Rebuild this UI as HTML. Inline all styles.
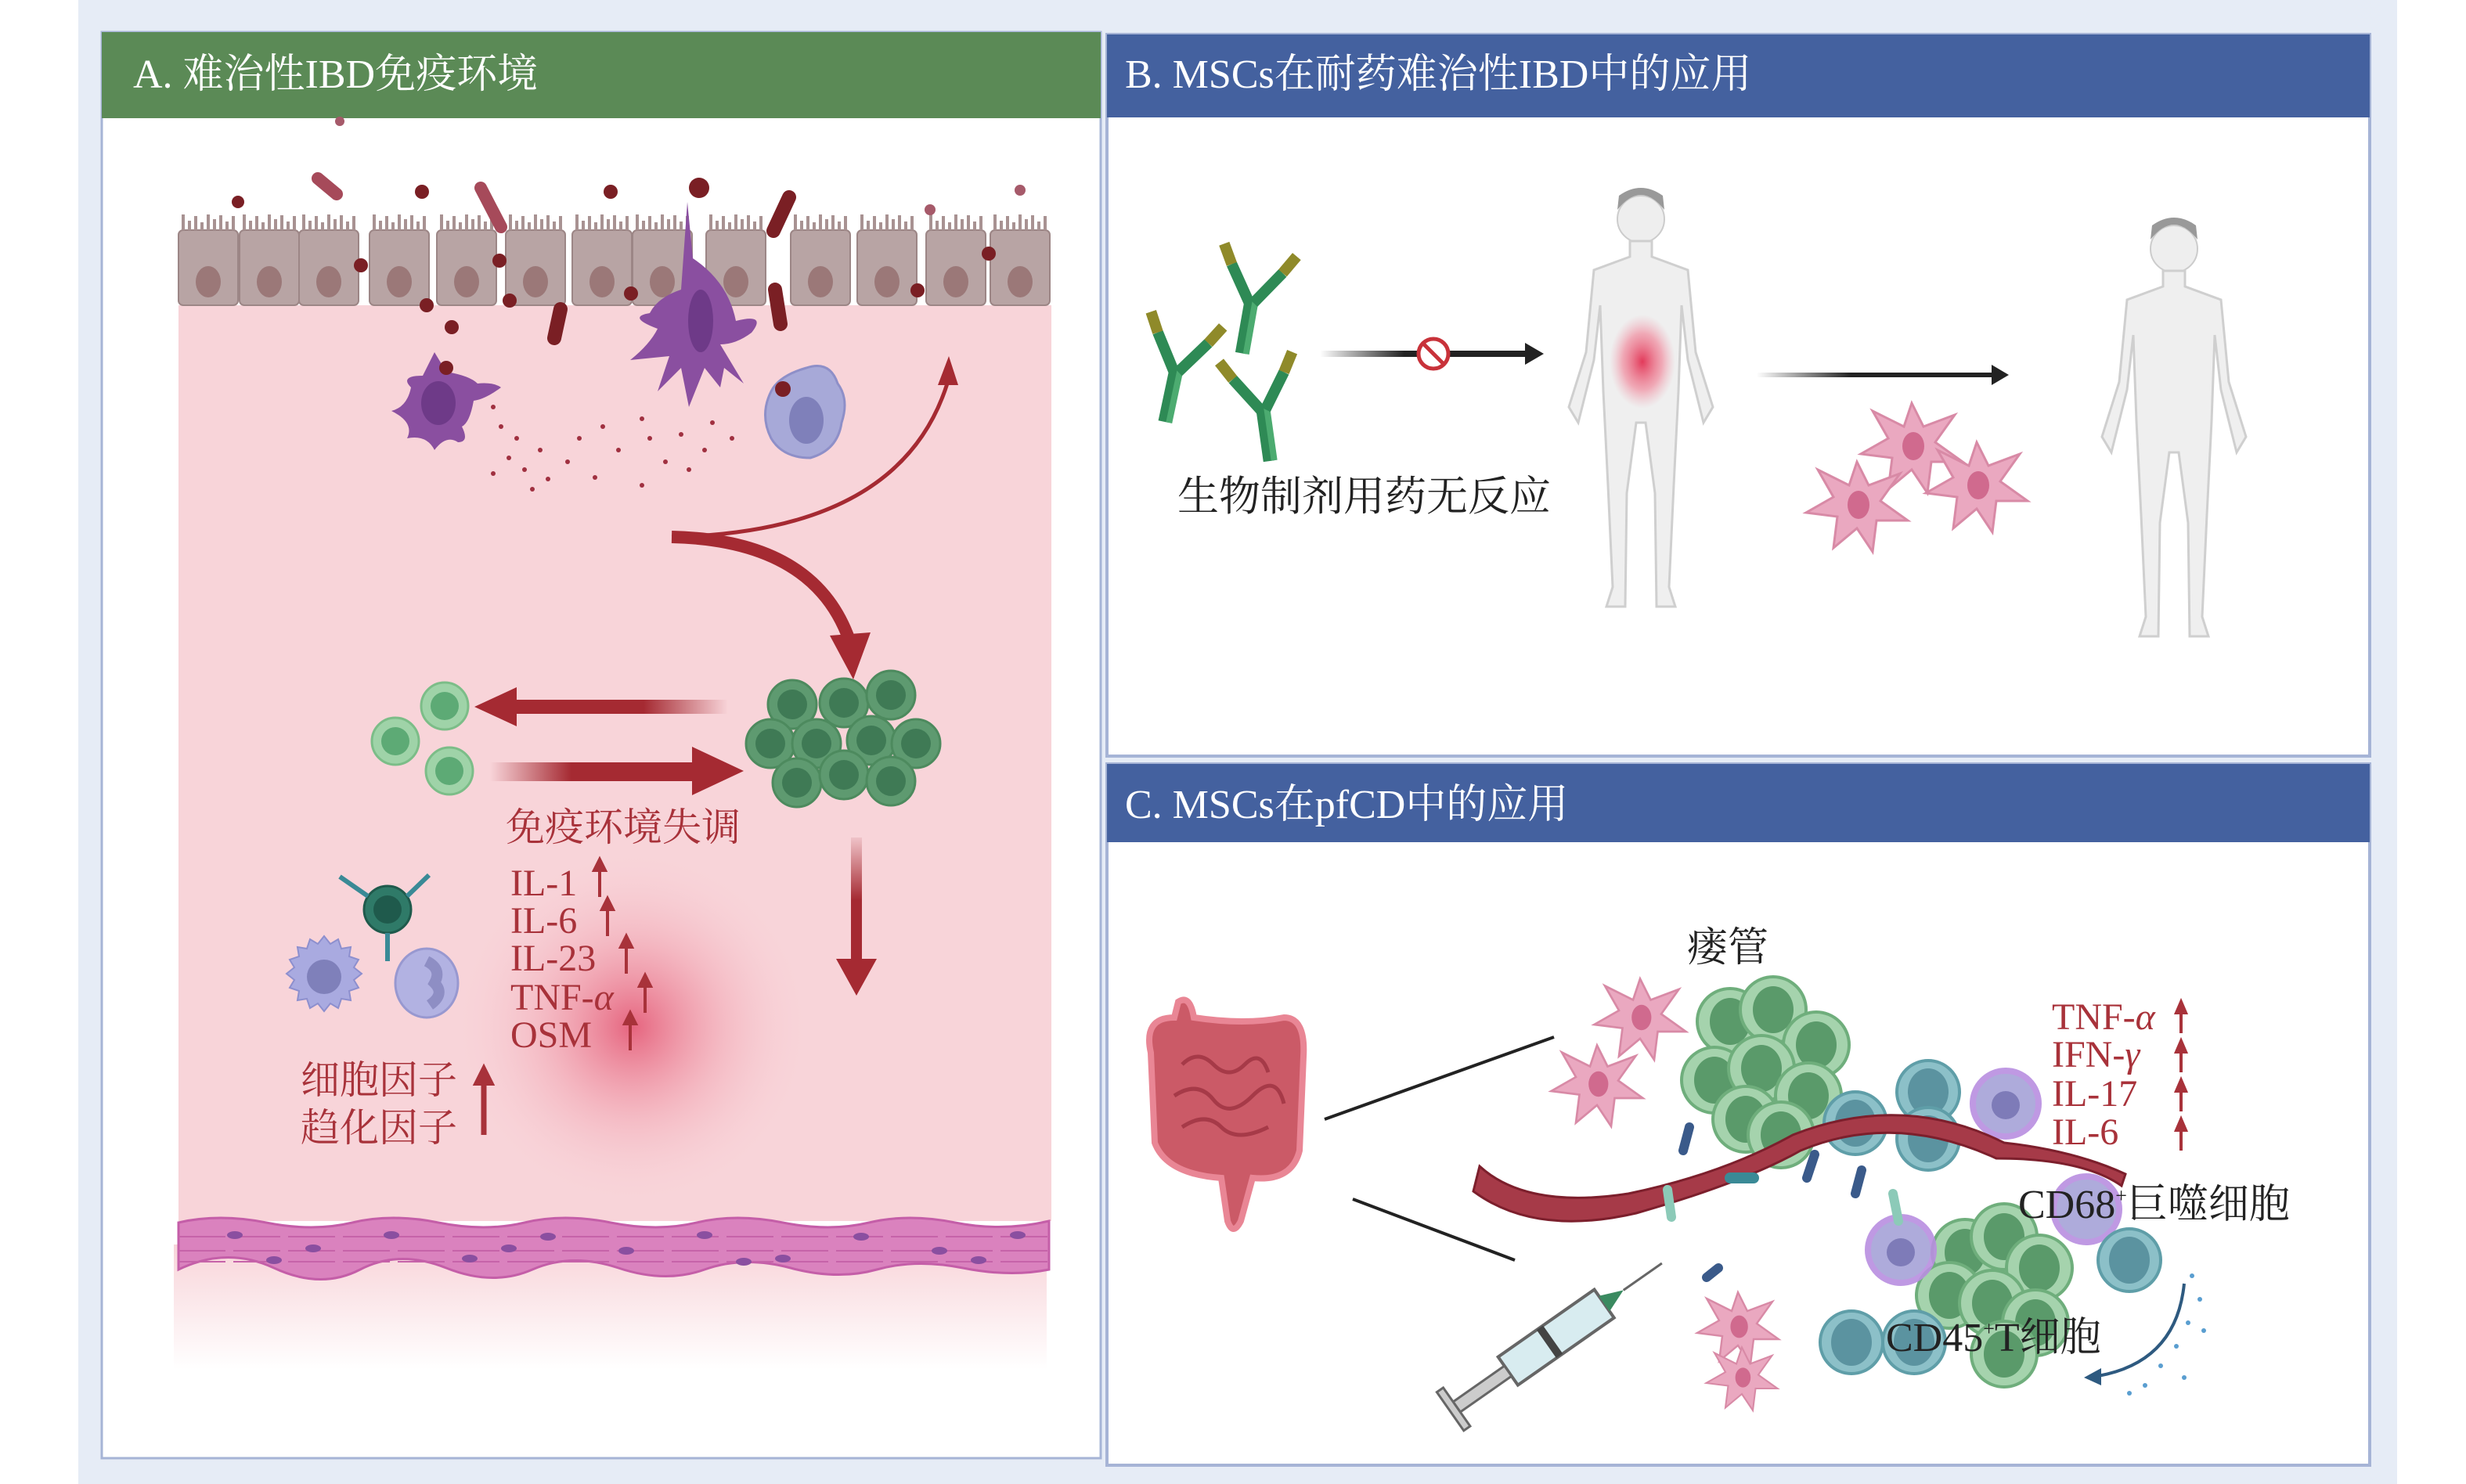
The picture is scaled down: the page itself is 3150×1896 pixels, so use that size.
<!DOCTYPE html>
<html><head><meta charset="utf-8"><style>
html,body{margin:0;padding:0;background:#fff}
svg{display:block}
.t{font-family:"Liberation Serif","Noto Serif CJK SC",serif}
</style></head><body>
<svg width="3150" height="1896" viewBox="0 0 3150 1896" xmlns="http://www.w3.org/2000/svg">
<defs>
<radialGradient id="glow" cx="0.5" cy="0.5" r="0.5"><stop offset="0" stop-color="#e2506e" stop-opacity="0.85"/><stop offset="0.5" stop-color="#ee8a9c" stop-opacity="0.35"/><stop offset="1" stop-color="#f8d4d9" stop-opacity="0"/></radialGradient>
<radialGradient id="belly" cx="0.5" cy="0.5" r="0.5"><stop offset="0" stop-color="#e23a5a"/><stop offset="0.6" stop-color="#f07a90" stop-opacity="0.6"/><stop offset="1" stop-color="#f0a0b0" stop-opacity="0"/></radialGradient>
<linearGradient id="fade" x1="0" y1="0" x2="0" y2="1"><stop offset="0" stop-color="#f8d4d9"/><stop offset="1" stop-color="#fff"/></linearGradient>
<linearGradient id="arrL" x1="0" x2="1"><stop offset="0" stop-color="#a52a32"/><stop offset="0.6" stop-color="#a52a32"/><stop offset="1" stop-color="#a52a32" stop-opacity="0"/></linearGradient>
<linearGradient id="arrR" x1="0" x2="1"><stop offset="0" stop-color="#a52a32" stop-opacity="0"/><stop offset="0.4" stop-color="#a52a32"/><stop offset="1" stop-color="#a52a32"/></linearGradient>
<linearGradient id="arrD" x1="0" y1="0" x2="0" y2="1"><stop offset="0" stop-color="#a52a32" stop-opacity="0.1"/><stop offset="0.5" stop-color="#a52a32"/><stop offset="1" stop-color="#a52a32"/></linearGradient>
<linearGradient id="blk" x1="0" x2="1"><stop offset="0" stop-color="#222" stop-opacity="0"/><stop offset="0.4" stop-color="#222"/><stop offset="1" stop-color="#222"/></linearGradient>
<g id="epi"><rect x="0" y="22" width="76" height="96" rx="6" fill="#b8a4a4" stroke="#9c8686" stroke-width="2"/>
<path d="M6 22V2M14 22V10M22 22V4M30 22V12M38 22V2M46 22V8M54 22V3M62 22V11M70 22V4" stroke="#a89292" stroke-width="4"/>
<ellipse cx="38" cy="88" rx="16" ry="20" fill="#9b7878"/></g>
<g id="gc"><circle r="31" fill="#5e9a70" stroke="#4d8a5e" stroke-width="3"/><circle r="19" fill="#3f7a55"/></g>
<g id="lgc"><circle r="30" fill="#9fd3a8" stroke="#7cbd88" stroke-width="3"/><circle r="18" fill="#5daa75"/></g>
<g id="msc"><path d="M0-55L15-25 55-40 30-5 65 20 25 20 20 60 0 30-30 55-25 15-65 10-30-10-50-45-10-25Z" fill="#eaa8c0" stroke="#d88aa6" stroke-width="3"/><ellipse cx="2" cy="0" rx="14" ry="18" fill="#d06a8e"/></g>
<g id="ab"><rect x="-6" y="0" width="14" height="70" fill="#2e8a55"/><rect x="4" y="0" width="8" height="70" fill="#4cab70"/><path d="M0 4L-30-40M6 4L36-40" stroke="#2e8a55" stroke-width="14"/><path d="M-30-40L-44-64M36-40L50-64" stroke="#8f8a2a" stroke-width="14"/></g>
<g id="tc"><circle r="40" fill="#8cc0c8" stroke="#5f9ea8" stroke-width="4"/><ellipse rx="26" ry="30" fill="#5b93a0"/></g>
<g id="gc2"><circle r="42" fill="#a5d3ad" stroke="#6fae7c" stroke-width="4"/><ellipse rx="26" ry="30" fill="#5a9a6a"/></g>
<g id="human"><circle cx="0" cy="30" r="30" fill="#eee" stroke="#ccc" stroke-width="2"/><path d="M-30 18Q0-20 30 18L28 0Q0-20-28 0Z" fill="#999"/>
<path d="M-14 58L-14 78-60 95-70 200-92 270-80 290-60 210-52 140-48 250-42 370-36 500-44 525-20 525-18 380-6 290 6 290 18 380 20 525 44 525 36 500 42 370 48 250 52 140 60 210 80 290 92 270 70 200 60 95 14 78 14 58Z" fill="#efefef" stroke="#cfcfcf" stroke-width="3"/></g>
</defs>
<rect width="3150" height="1896" fill="#fff"/>
<rect x="100" y="0" width="2962" height="1896" fill="#e6ecf6"/>

<!-- Panel A -->
<rect x="130" y="41" width="1276" height="1822" fill="#fff" stroke="#a6b4d6" stroke-width="3"/>
<rect x="130" y="41" width="1276" height="110" fill="#5b8a56"/>
<text x="170" y="112" class="t" font-size="52" fill="#fff">A. 难治性IBD免疫环境</text>
<rect x="228" y="390" width="1115" height="1170" fill="#f8d4d9"/>
<rect x="222" y="1590" width="1115" height="160" fill="url(#fade)"/>
<circle cx="808" cy="1312" r="230" fill="url(#glow)"/>
<path d="M228 1562Q280 1550 340 1562T450 1562T560 1562T670 1562T780 1562T890 1562T1000 1562T1110 1562T1220 1562T1340 1560V1622Q1290 1632 1230 1620T1120 1622T1010 1620T900 1622T790 1620T680 1622T570 1620T460 1622T350 1620T228 1622Z" fill="#da82be" stroke="#c45ea8" stroke-width="3"/>
<path d="M228 1580H1340M228 1598H1340M228 1612H1340" stroke="#c663a9" stroke-width="2" stroke-dasharray="60 10"/>
<g fill="#8a4fa0"><ellipse cx="300" cy="1578" rx="10" ry="5"/><ellipse cx="400" cy="1595" rx="10" ry="5"/><ellipse cx="500" cy="1578" rx="10" ry="5"/><ellipse cx="600" cy="1608" rx="10" ry="5"/><ellipse cx="700" cy="1580" rx="10" ry="5"/><ellipse cx="800" cy="1598" rx="10" ry="5"/><ellipse cx="900" cy="1578" rx="10" ry="5"/><ellipse cx="1000" cy="1608" rx="10" ry="5"/><ellipse cx="1100" cy="1580" rx="10" ry="5"/><ellipse cx="1200" cy="1598" rx="10" ry="5"/><ellipse cx="1300" cy="1578" rx="10" ry="5"/><ellipse cx="350" cy="1610" rx="10" ry="5"/><ellipse cx="650" cy="1595" rx="10" ry="5"/><ellipse cx="950" cy="1612" rx="10" ry="5"/><ellipse cx="1250" cy="1610" rx="10" ry="5"/></g>
<g transform="translate(0,272)">
<use href="#epi" x="228"/><use href="#epi" x="306"/><use href="#epi" x="382"/><use href="#epi" x="472"/><use href="#epi" x="558"/><use href="#epi" x="646"/><use href="#epi" x="731"/><use href="#epi" x="808"/><use href="#epi" x="902"/><use href="#epi" x="1010"/><use href="#epi" x="1095"/><use href="#epi" x="1183"/><use href="#epi" x="1265"/>
</g>
<g fill="#7a1f24"><circle cx="304" cy="258" r="8"/><circle cx="539" cy="245" r="9"/><circle cx="780" cy="245" r="9"/><circle cx="893" cy="240" r="13"/><circle cx="461" cy="339" r="9"/><circle cx="638" cy="333" r="9"/><circle cx="651" cy="384" r="9"/><circle cx="545" cy="390" r="9"/><circle cx="577" cy="418" r="9"/><circle cx="806" cy="375" r="9"/><circle cx="1263" cy="324" r="9"/><circle cx="1172" cy="371" r="9"/></g>
<g fill="#a65a6a"><circle cx="1303" cy="243" r="7"/><circle cx="1188" cy="268" r="7"/><circle cx="434" cy="155" r="6"/></g>
<g stroke-linecap="round"><path d="M406 228L430 248" stroke="#a64a5a" stroke-width="16"/><path d="M614 240L640 290" stroke="#a64a5a" stroke-width="16"/><path d="M1008 252L988 295" stroke="#7a1f24" stroke-width="18"/><path d="M716 395L708 432" stroke="#7a1f24" stroke-width="18"/><path d="M990 370L997 414" stroke="#7a1f24" stroke-width="18"/></g>
<path d="M878 258L885 330Q930 360 940 410Q980 400 960 425Q940 440 920 440L950 490 925 470 920 495 900 470 880 520 870 470 840 500 855 455 805 460Q830 440 840 420 800 405 830 400Q840 380 870 370Z" fill="#8a4fa0"/>
<ellipse cx="895" cy="410" rx="16" ry="40" fill="#6e3a88"/>
<path d="M555 450L570 475Q600 480 610 490 630 488 640 495 620 510 605 512 600 540 590 545 600 565 585 565 570 555 555 575 545 555 520 560 530 540 500 525 520 520 525 495 510 480 540 480Z" fill="#8a4fa0"/>
<ellipse cx="560" cy="515" rx="22" ry="28" fill="#6e3a88"/><circle cx="570" cy="470" r="9" fill="#7a1f24"/>
<path d="M1030 470Q1060 460 1070 490 1085 510 1075 540 1070 575 1035 585 1000 585 985 560 970 530 985 500 995 480 1030 470Z" fill="#a7a9d8" stroke="#8e8fc8" stroke-width="3"/>
<ellipse cx="1030" cy="537" rx="22" ry="30" fill="#7f80ba"/><circle cx="1000" cy="497" r="10" fill="#7a1f24"/>
<g fill="#a03040"><circle cx="630" cy="520" r="3"/><circle cx="640" cy="545" r="3"/><circle cx="660" cy="560" r="3"/><circle cx="650" cy="585" r="3"/><circle cx="670" cy="600" r="3"/><circle cx="690" cy="575" r="3"/><circle cx="700" cy="612" r="3"/><circle cx="725" cy="590" r="3"/><circle cx="740" cy="560" r="3"/><circle cx="770" cy="545" r="3"/><circle cx="790" cy="575" r="3"/><circle cx="820" cy="535" r="3"/><circle cx="830" cy="560" r="3"/><circle cx="850" cy="590" r="3"/><circle cx="870" cy="555" r="3"/><circle cx="880" cy="600" r="3"/><circle cx="900" cy="575" r="3"/><circle cx="910" cy="540" r="3"/><circle cx="935" cy="560" r="3"/><circle cx="760" cy="610" r="3"/><circle cx="630" cy="605" r="3"/><circle cx="680" cy="625" r="3"/><circle cx="820" cy="620" r="3"/></g>
<path d="M858 686Q1150 680 1210 490" fill="none" stroke="#a52a32" stroke-width="5"/>
<path d="M1212 455L1198 492 1224 492Z" fill="#a52a32"/>
<path d="M858 686Q1040 690 1085 818" fill="none" stroke="#a52a32" stroke-width="16"/>
<path d="M1090 868L1060 812 1112 808Z" fill="#a52a32"/>
<use href="#gc" x="1012" y="900"/><use href="#gc" x="1078" y="898"/><use href="#gc" x="1138" y="888"/><use href="#gc" x="984" y="950"/><use href="#gc" x="1043" y="950"/><use href="#gc" x="1113" y="946"/><use href="#gc" x="1170" y="950"/><use href="#gc" x="1018" y="1000"/><use href="#gc" x="1078" y="990"/><use href="#gc" x="1138" y="998"/>
<use href="#lgc" x="568" y="902"/><use href="#lgc" x="505" y="947"/><use href="#lgc" x="574" y="985"/>
<rect x="660" y="894" width="270" height="18" fill="url(#arrL)"/><path d="M606 903L660 878 660 928Z" fill="#a52a32"/>
<rect x="626" y="974" width="260" height="24" fill="url(#arrR)"/><path d="M950 985L884 954 884 1016Z" fill="#a52a32"/>
<rect x="1087" y="1070" width="14" height="160" fill="url(#arrD)"/><path d="M1094 1272L1068 1225 1120 1225Z" fill="#a52a32"/>
<text x="646" y="1074" class="t" font-size="50" fill="#a8323a">免疫环境失调</text>
<g class="t" font-size="48" fill="#a8323a"><text x="652" y="1144">IL-1</text><text x="652" y="1192">IL-6</text><text x="652" y="1240">IL-23</text><text x="652" y="1290">TNF-<tspan font-style="italic">α</tspan></text><text x="652" y="1338">OSM</text>
<text x="384" y="1397" font-size="50">细胞因子</text><text x="384" y="1458" font-size="50">趋化因子</text></g>
<g stroke="#a8323a" stroke-width="4" fill="#a8323a"><path d="M766 1146V1106M776 1196V1156M800 1244V1204M824 1294V1254M805 1342V1302"/>
<path d="M766 1098l-7 14h14zM776 1148l-7 14h14zM800 1196l-7 14h14zM824 1246l-7 14h14zM805 1294l-7 14h14z"/>
<path d="M618 1450V1380" stroke-width="7"/><path d="M618 1363l-11 22h22z"/></g>
<path d="M414 1196l8 10 10-6 4 12 12-2-2 12 12 4-6 10 10 8-10 8 6 10-12 4 2 12-12-2-4 12-10-6-8 10-8-10-10 6-4-12-12 2 2-12-12-4 6-10-10-8 10-8-6-10 12-4-2-12 12 2 4-12 10 6z" fill="#a9aae0" stroke="#8d8fce" stroke-width="2"/>
<circle cx="414" cy="1248" r="22" fill="#7f80ba"/>
<ellipse cx="545" cy="1256" rx="40" ry="44" fill="#b2b2e2" stroke="#9898d0" stroke-width="3"/><path d="M545 1228q20 10 10 28 14 14-6 28" fill="none" stroke="#8e8ec4" stroke-width="14"/>
<circle cx="495" cy="1162" r="30" fill="#2f7a68" stroke="#1f5a4c" stroke-width="3"/><circle cx="495" cy="1162" r="18" fill="#1f5a4c"/>
<path d="M470 1145L434 1120M520 1145L548 1118M495 1192V1228" stroke="#3a8a96" stroke-width="6"/>

<!-- Panel B -->
<rect x="1414" y="44" width="1613" height="922" fill="#fff" stroke="#a6b4d6" stroke-width="4"/>
<rect x="1414" y="44" width="1613" height="106" fill="#44619f"/>
<text x="1437" y="112" class="t" font-size="52" fill="#fff">B. MSCs在耐药难治性IBD中的应用</text>
<use href="#ab" transform="translate(1596,382) rotate(10)"/><use href="#ab" transform="translate(1500,470) rotate(12)"/><use href="#ab" transform="translate(1610,520) rotate(-8)"/>
<rect x="1686" y="448" width="270" height="8" fill="url(#blk)"/><path d="M1972 452L1948 438 1948 466Z" fill="#222"/>
<circle cx="1831" cy="452" r="19" fill="#fff" stroke="#c8323a" stroke-width="5"/><path d="M1818 439L1844 465" stroke="#c8323a" stroke-width="5"/>
<use href="#human" x="2096" y="250"/>
<ellipse cx="2098" cy="462" rx="42" ry="60" fill="url(#belly)"/>
<rect x="2244" y="476" width="300" height="6" fill="url(#blk)"/><path d="M2566 479L2544 466 2544 492Z" fill="#222"/>
<use href="#msc" x="2442" y="570"/><use href="#msc" x="2372" y="645"/><use href="#msc" x="2525" y="620"/>
<use href="#human" x="2777" y="288"/>
<text x="1504" y="652" class="t" font-size="53" fill="#222">生物制剂用药无反应</text>

<!-- Panel C -->
<rect x="1414" y="976" width="1613" height="896" fill="#fff" stroke="#a6b4d6" stroke-width="4"/>
<rect x="1414" y="976" width="1613" height="100" fill="#44619f"/>
<text x="1437" y="1045" class="t" font-size="52" fill="#fff">C. MSCs在pfCD中的应用</text>
<path d="M1470 1345Q1460 1300 1500 1300L1505 1280Q1520 1270 1525 1300Q1590 1310 1640 1300Q1668 1300 1665 1350L1660 1470Q1650 1510 1600 1505L1585 1560Q1575 1580 1568 1560L1560 1505Q1490 1500 1475 1460Z" fill="#c9525f" stroke="#e88090" stroke-width="8" opacity="0.95"/>
<path d="M1510 1360q20-20 40 0t40 0t30 10M1500 1400q30-20 50 5t50-5 40 10M1510 1440q30-20 50 0t60 0" fill="none" stroke="#a63a48" stroke-width="5"/>
<path d="M1692 1430L1985 1325M1728 1532L1935 1610" stroke="#222" stroke-width="4"/>
<text x="2155" y="1228" class="t" font-size="52" fill="#222">瘘管</text>
<use href="#msc" x="2095" y="1300" transform="scale(0.9)" transform-origin="2095 1300"/><use href="#msc" x="2040" y="1385" transform="scale(0.9)" transform-origin="2040 1385"/>
<use href="#msc" x="2220" y="1695" transform="scale(0.8)" transform-origin="2220 1695"/><use href="#msc" x="2225" y="1760" transform="scale(0.7)" transform-origin="2225 1760"/>
<use href="#gc2" x="2210" y="1305"/><use href="#gc2" x="2265" y="1290"/><use href="#gc2" x="2320" y="1335"/><use href="#gc2" x="2190" y="1380"/><use href="#gc2" x="2250" y="1365"/><use href="#gc2" x="2310" y="1400"/><use href="#gc2" x="2230" y="1430"/><use href="#gc2" x="2275" y="1450"/>
<use href="#tc" x="2463" y="1395"/><use href="#tc" x="2463" y="1455"/><use href="#tc" x="2370" y="1435"/>
<circle cx="2562" cy="1410" r="42" fill="#a6a2d8" stroke="#b98fe0" stroke-width="8" opacity="0.9"/><circle cx="2562" cy="1412" r="18" fill="#7e7bb8"/>
<path d="M1882 1522Q1960 1580 2090 1550Q2230 1510 2300 1470Q2420 1420 2550 1480 2660 1480 2710 1515L2715 1500Q2650 1470 2560 1460Q2430 1395 2290 1450Q2200 1500 2080 1525Q1950 1545 1890 1490Z" fill="#a63a48" stroke="#7c1f2c" stroke-width="3"/>
<use href="#gc2" x="2510" y="1600"/><use href="#gc2" x="2560" y="1580"/><use href="#gc2" x="2605" y="1620"/><use href="#gc2" x="2490" y="1655"/><use href="#gc2" x="2545" y="1665"/><use href="#gc2" x="2600" y="1690"/><use href="#gc2" x="2560" y="1730"/>
<circle cx="2665" cy="1545" r="42" fill="#a6a2d8" stroke="#b98fe0" stroke-width="8" opacity="0.9"/>
<circle cx="2428" cy="1597" r="42" fill="#a6a2d8" stroke="#b98fe0" stroke-width="8" opacity="0.9"/><circle cx="2428" cy="1600" r="18" fill="#7e7bb8"/>
<use href="#tc" x="2720" y="1610"/><use href="#tc" x="2365" y="1715"/><use href="#tc" x="2445" y="1715"/>
<g stroke-linecap="round"><path d="M2158 1440L2150 1470M2318 1475L2308 1505M2378 1495L2370 1525M2195 1620L2180 1632" stroke="#3a5a8a" stroke-width="12"/><path d="M2130 1520L2135 1555M2418 1525L2425 1560" stroke="#8ccab8" stroke-width="12"/><path d="M2210 1505L2240 1505" stroke="#3a8a96" stroke-width="14"/></g>
<g transform="translate(2000,1700) rotate(-35)"><rect x="-90" y="-22" width="150" height="44" fill="#d8ecf0" stroke="#666" stroke-width="4"/><rect x="-30" y="-22" width="10" height="44" fill="#444"/><rect x="-170" y="-8" width="80" height="16" fill="#ccc" stroke="#666" stroke-width="3"/><rect x="-180" y="-30" width="10" height="60" fill="#ccc" stroke="#666" stroke-width="3"/><path d="M60-12L90 0 60 12Z" fill="#3a8a60"/><path d="M90 0H150" stroke="#666" stroke-width="3"/></g>
<g class="t" font-size="48" fill="#a8323a"><text x="2621" y="1315">TNF-<tspan font-style="italic">α</tspan></text><text x="2621" y="1363">IFN-<tspan font-style="italic">γ</tspan></text><text x="2621" y="1413">IL-17</text><text x="2621" y="1462">IL-6</text></g>
<g stroke="#a8323a" stroke-width="4" fill="#a8323a"><path d="M2786 1320V1290M2786 1370V1340M2786 1420V1390M2786 1470V1440"/><path d="M2786 1280l-6 14h12zM2786 1330l-6 14h12zM2786 1380l-6 14h12zM2786 1430l-6 14h12z"/></g>
<text x="2578" y="1556" class="t" font-size="52" fill="#222">CD68<tspan font-size="26" dy="-20">+</tspan><tspan dy="20">巨噬细胞</tspan></text>
<text x="2409" y="1726" class="t" font-size="52" fill="#222">CD45<tspan font-size="26" dy="-20">+</tspan><tspan dy="20">T细胞</tspan></text>
<path d="M2790 1640Q2780 1740 2680 1758" fill="none" stroke="#2e5a80" stroke-width="4"/><path d="M2662 1760l22-12 0 22z" fill="#2e5a80"/>
<g fill="#5a9ed0"><circle cx="2800" cy="1630" r="3"/><circle cx="2810" cy="1660" r="3"/><circle cx="2795" cy="1690" r="3"/><circle cx="2780" cy="1720" r="3"/><circle cx="2760" cy="1745" r="3"/><circle cx="2740" cy="1770" r="3"/><circle cx="2720" cy="1780" r="3"/><circle cx="2815" cy="1700" r="3"/><circle cx="2790" cy="1760" r="3"/></g>
</svg>
</body></html>
